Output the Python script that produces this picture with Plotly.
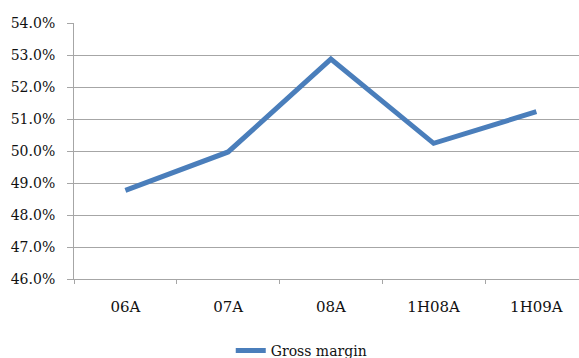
import plotly.graph_objects as go

# Gross margin by period
periods = ["06A", "07A", "08A", "1H08A", "1H09A"]
gross_margin = [48.77, 49.97, 52.87, 50.24, 51.23]
y_ticks = [46, 47, 48, 49, 50, 51, 52, 53, 54]
y_tick_labels = [f"{v:.1f}%" for v in y_ticks]

FONT = "DejaVu Serif"
GRID = "#a6a6a6"
TEXT = "#111111"

fig = go.Figure()
fig.add_trace(go.Scatter(
    x=periods,
    y=gross_margin,
    mode="lines",
    name="Gross margin",
    line=dict(color="#4a7ebb", width=5),
))

fig.update_layout(
    width=579,
    height=358,
    margin=dict(l=74, r=0, t=23, b=79, autoexpand=False),
    paper_bgcolor="white",
    plot_bgcolor="white",
    font=dict(family=FONT, size=14, color=TEXT),
    showlegend=True,
    legend=dict(
        orientation="h",
        x=0.45, xanchor="center",
        yref="container",
        y=0.02, yanchor="middle",
        font=dict(family=FONT, size=14, color=TEXT),
        bgcolor="rgba(0,0,0,0)",
    ),
    xaxis=dict(
        type="category",
        range=[-0.5, -0.5 + 505 / 102.75],
        showgrid=False,
        zeroline=False,
        showline=True,
        linecolor=GRID,
        linewidth=1,
        ticks="outside",
        tickson="boundaries",
        ticklen=4,
        tickcolor=GRID,
        tickfont=dict(family=FONT, size=15, color=TEXT),
        ticklabelstandoff=14,
        fixedrange=True,
    ),
    yaxis=dict(
        tickmode="array",
        tickvals=y_ticks,
        ticktext=y_tick_labels,
        range=[46, 54],
        showgrid=True,
        gridcolor=GRID,
        gridwidth=1,
        zeroline=False,
        showline=True,
        linecolor=GRID,
        linewidth=1,
        ticks="outside",
        ticklen=6,
        tickcolor=GRID,
        tickfont=dict(family=FONT, size=14, color=TEXT),
        ticklabelstandoff=9,
        fixedrange=True,
    ),
)

fig.write_html("out.html")
